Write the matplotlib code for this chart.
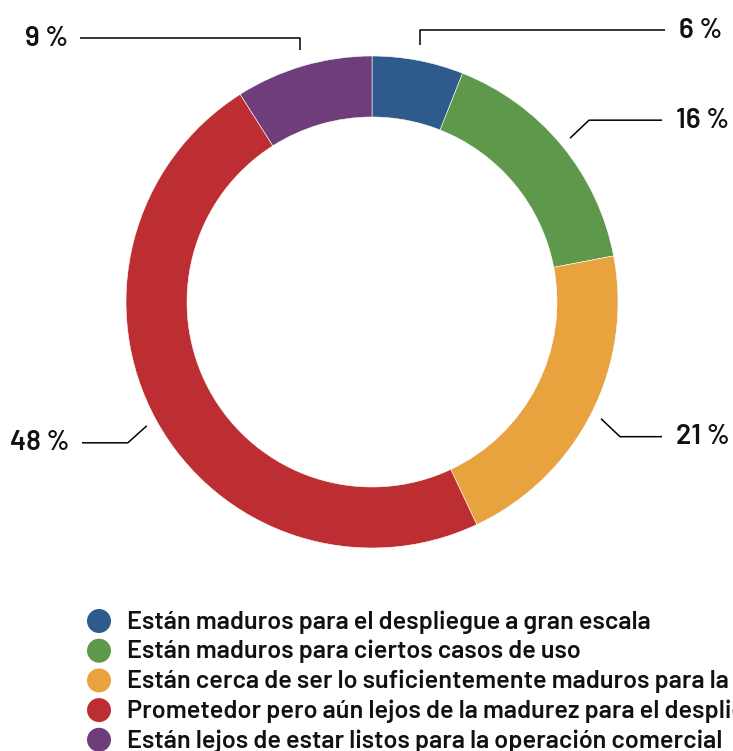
import numpy as np
import matplotlib
matplotlib.use("Agg")
import matplotlib.pyplot as plt

# data
categories = [
    "Están maduros para el despliegue a gran escala",
    "Están maduros para ciertos casos de uso",
    "Están cerca de ser lo suficientemente maduros para la operación comercial",
    "Prometedor pero aún lejos de la madurez para el despliegue",
    "Están lejos de estar listos para la operación comercial",
]
values = [6, 16, 21, 48, 9]
labels = ["6 %", "16 %", "21 %", "48 %", "9 %"]
colors = ["#2E5A8C", "#5E984A", "#E8A23E", "#BD2E32", "#6F3D7B"]

plt.rcParams["font.family"] = ["Barlow", "DejaVu Sans"]

W, H = 733, 751
fig = plt.figure(figsize=(W / 100, H / 100), dpi=100)
ax = fig.add_axes([0, 0, 1, 1])

cx, cy = 372, H - 302
R = 246
ax.pie(values, colors=colors, startangle=90, counterclock=False,
       center=(cx, cy), radius=R, frame=True,
       wedgeprops=dict(width=61, edgecolor="white", linewidth=0.4))
ax.set_xlim(0, W)
ax.set_ylim(0, H)
ax.set_aspect("equal")
ax.axis("off")

# leader lines: anchor at mid-angle, then elbow, then horizontal run
# (kind, elbow y or offset, end x)
leaders = [
    ("up", H - 30, 665),
    ("diag", 18, 662),
    ("diag", -18, 662),
    ("diag", -17, 82),
    ("up", H - 38, 80),
]
cum = np.cumsum([0] + values[:-1])
for v, c0, lab, (kind, p, xend) in zip(values, cum, labels, leaders):
    a = np.deg2rad(90 - (c0 + v / 2) / sum(values) * 360)
    ax0 = cx + 257 * np.cos(a)
    ay0 = cy + 257 * np.sin(a)
    right = xend > cx
    if kind == "up":
        xs = [ax0, ax0, xend]
        ys = [ay0 + 5, p, p]
    else:
        ex = ax0 + (19 if right else -19)
        ey = ay0 + p
        xs = [ax0, ex, xend]
        ys = [ay0, ey, ey]
    ax.plot(xs, ys, color="black", lw=1.1, solid_capstyle="butt")
    ty = ys[-1]
    if right:
        ax.text(xend + 14, ty, lab, ha="left", va="center", fontsize=20,
                fontweight="semibold", color="#111111")
    else:
        ax.text(xend - 12, ty, lab, ha="right", va="center", fontsize=20,
                fontweight="semibold", color="#111111")

# legend
for i, (cat, col) in enumerate(zip(categories, colors)):
    y = H - 621 - i * 29.7
    ax.add_patch(plt.Circle((99, y), 12, color=col, lw=0))
    ax.text(127, y - 1, cat, ha="left", va="center", fontsize=18.2,
            fontweight="semibold", color="#111111", clip_on=False)

fig.savefig("out.png", dpi=100)
